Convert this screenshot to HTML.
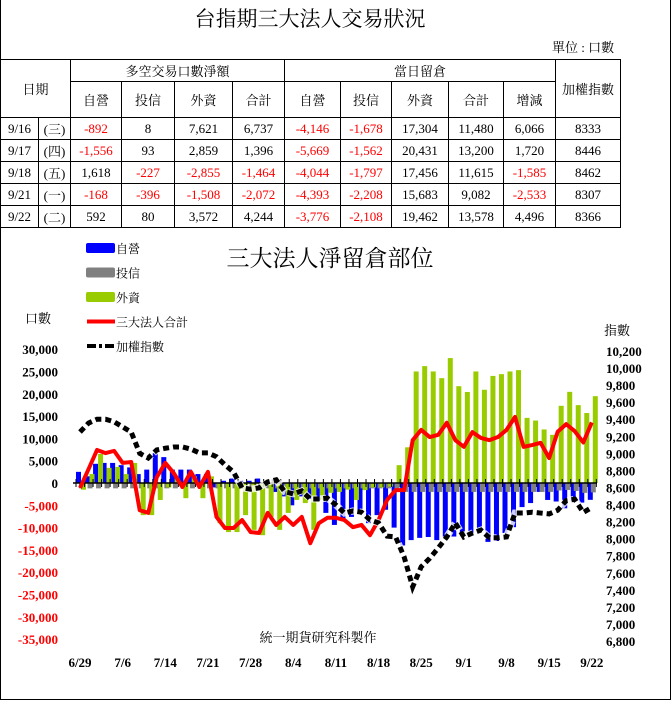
<!DOCTYPE html>
<html><head><meta charset="utf-8">
<style>
body{margin:0;width:672px;height:702px;background:#fff;font-family:"Liberation Serif","Noto Serif CJK TC","Noto Serif CJK SC",serif;overflow:hidden;position:relative}
#frame{position:absolute;left:0;top:0;width:669px;height:699px;border:1px solid #000;border-top:none}
#title{position:absolute;left:0;width:620px;top:3px;text-align:center;font-size:21px}
#unit{position:absolute;left:552px;top:37px;font-size:13px}
table{position:absolute;left:0;top:59px;border-collapse:collapse;font-size:13px;table-layout:fixed}
td{border:1px solid #000;text-align:center;padding:0;height:21px;white-space:nowrap}
.r{color:#f00}
svg{position:absolute;left:0;top:0}
</style></head><body>
<div id="frame"></div>
<div id="title">台指期三大法人交易狀況</div>
<div id="unit">單位 : 口數</div>
<table>
<colgroup><col style="width:38px"><col style="width:32px"><col style="width:51px"><col style="width:53px"><col style="width:58px"><col style="width:52px"><col style="width:56px"><col style="width:51px"><col style="width:57px"><col style="width:55px"><col style="width:52px"><col style="width:65px"></colgroup>
<tr style="height:22px"><td colspan="2" rowspan="2">日期</td><td colspan="4">多空交易口數淨額</td><td colspan="5">當日留倉</td><td rowspan="2">加權指數</td></tr>
<tr style="height:36px"><td>自營</td><td>投信</td><td>外資</td><td>合計</td><td>自營</td><td>投信</td><td>外資</td><td>合計</td><td>增減</td></tr>
<tr><td>9/16</td><td>(三)</td><td class="r">-892</td><td>8</td><td>7,621</td><td>6,737</td><td class="r">-4,146</td><td class="r">-1,678</td><td>17,304</td><td>11,480</td><td>6,066</td><td>8333</td></tr>
<tr><td>9/17</td><td>(四)</td><td class="r">-1,556</td><td>93</td><td>2,859</td><td>1,396</td><td class="r">-5,669</td><td class="r">-1,562</td><td>20,431</td><td>13,200</td><td>1,720</td><td>8446</td></tr>
<tr><td>9/18</td><td>(五)</td><td>1,618</td><td class="r">-227</td><td class="r">-2,855</td><td class="r">-1,464</td><td class="r">-4,044</td><td class="r">-1,797</td><td>17,456</td><td>11,615</td><td class="r">-1,585</td><td>8462</td></tr>
<tr><td>9/21</td><td>(一)</td><td class="r">-168</td><td class="r">-396</td><td class="r">-1,508</td><td class="r">-2,072</td><td class="r">-4,393</td><td class="r">-2,208</td><td>15,683</td><td>9,082</td><td class="r">-2,533</td><td>8307</td></tr>
<tr><td>9/22</td><td>(二)</td><td>592</td><td>80</td><td>3,572</td><td>4,244</td><td class="r">-3,776</td><td class="r">-2,108</td><td>19,462</td><td>13,578</td><td>4,496</td><td>8366</td></tr>
</table>
<svg id="chart" width="672" height="702"></svg>
<script>
const dates=["6/29","7/6","7/14","7/21","7/28","8/4","8/11","8/18","8/25","9/1","9/8","9/15","9/22"];
const dateIdx=[0,5,10,15,20,25,30,35,40,45,50,55,60];
const leftTicks=[30000,25000,20000,15000,10000,5000,0,-5000,-10000,-15000,-20000,-25000,-30000,-35000];
const rightTicks=[10200,10000,9800,9600,9400,9200,9000,8800,8600,8400,8200,8000,7800,7600,7400,7200,7000,6800];
const dealer=[2.5,1.5,4.3,4.5,4.5,4,3.5,2,3,6.7,5.8,3,3,3,2,2,-1,0.5,1,0.5,0.5,1,-1,-2,-3,-5,-3,-3.5,-4,-6.7,-9.4,-8.3,-7.6,-6,-9,-7.2,-6,-10,-14,-12.8,-12.3,-12.1,-12.8,-12,-12,-12,-11.2,-11,-13.2,-13,-11.2,-9.9,-5.4,-4.5,-2,-3.8,-4.146,-5.669,-4.044,-4.393,-3.776];
const trust=[-1.2,-1.2,-1.2,-1.2,-1.2,-1.2,-1.2,-1.2,-1.2,-1.2,-1.2,-1.2,-1.2,-1.2,-1.2,-1.2,-1.2,-1.2,-1.2,-1.2,-1.2,-1.2,-1.2,-1.2,-1.2,-1.2,-1.2,-1.2,-1.2,-1.2,-1.2,-1.2,-1.2,-1.2,-1.2,-1.2,-1.2,-2,-2,-2,-2,-2,-2,-2,-2,-2,-2,-2,-2,-2,-2,-2,-2,-2,-2,-2,-1.678,-1.562,-1.797,-2.208,-2.108];
const foreign=[-1.5,2,6.5,3.4,3.6,2,4.5,-7.2,-7.2,-3.8,-1,1,-3.4,1.5,-3.4,1.5,-9,-11,-11,-7.2,-10.5,-11.7,-7.6,-10.5,-6.7,-3.8,-4.5,-10.5,-3.8,-2.2,-2,-1.5,-3.8,-1.6,-1,-1,-0.8,4,8,25,26.2,25,23.5,28,21.7,20.4,25,20.9,24,24.4,25,25.3,14.6,14,12,10.8,17.304,20.431,17.456,15.683,19.462];
const total=[-1.1,3.1,7.4,6.7,7.2,4.5,4.7,-6.1,-6.7,1.3,4.5,2.2,-0.9,2.5,-0.9,2.5,-7.6,-10.1,-10.1,-8.3,-11,-11.2,-6.7,-9.4,-7.6,-9.4,-7.6,-13.5,-9,-7.8,-7.8,-8.3,-9.9,-9.4,-11.7,-8.3,-3.8,-1.6,-1.6,9.6,11.9,10.3,10.8,13.5,9.6,8.1,11.4,10.1,9.6,10.3,11.9,14.8,8.1,8.5,9,5.6,11.48,13.2,11.615,9.082,13.578];
const taiex=[9250,9355,9400,9400,9370,9310,9250,9000,8945,9040,9060,9075,9075,9050,9005,9005,8960,8865,8780,8595,8580,8595,8665,8690,8550,8525,8560,8465,8465,8475,8395,8300,8325,8310,8220,8185,8030,8020,7785,7435,7670,7770,7890,8020,8185,8020,8065,8100,8010,8010,8020,8300,8300,8310,8300,8290,8333,8446,8462,8307,8366];

const NS="http://www.w3.org/2000/svg";
const svg=document.getElementById('chart');
const X=i=>80+i*8.53;
const YL=v=>483-v*1000*(290/65000);
const YR=v=>641-(v-6800)*(290/3400);
function mk(t,a,p){const e=document.createElementNS(NS,t);for(const k in a)e.setAttribute(k,a[k]);(p||svg).appendChild(e);return e;}

// title, labels
let t=mk('text',{x:330,y:266,'text-anchor':'middle','font-size':23});t.textContent='三大法人淨留倉部位';


t=mk('text',{x:25,y:323,'font-size':13});t.textContent='口數';


t=mk('text',{x:604,y:335,'font-size':13});t.textContent='指數';


t=mk('text',{x:318,y:642,'text-anchor':'middle','font-size':13});t.textContent='統一期貨研究科製作';



// legend
const leg=[['自營','#0000ff','bar'],['投信','#808080','bar'],['外資','#99cc00','bar'],['三大法人合計','#ff0000','line'],['加權指數','#000','dot']];
leg.forEach((l,k)=>{
  const y=248+k*24.5;
  const g=mk('g',{});
  
  
  if(l[2]==='bar')mk('rect',{x:86,y:y-5,width:29,height:10,rx:2,fill:l[1]},g);
  else if(l[2]==='line')mk('line',{x1:87,y1:y,x2:115,y2:y,stroke:l[1],'stroke-width':4},g);
  else mk('line',{x1:87,y1:y,x2:115,y2:y,stroke:'#000','stroke-width':4,'stroke-dasharray':'9,3,3,3'},g);
  const tt=mk('text',{x:116,y:y+5,'font-size':12},g);tt.textContent=l[0];
});

// left ticks
leftTicks.forEach(v=>{
  const e=mk('text',{x:58,y:YL(v/1000)+5,'text-anchor':'end','font-size':13,'font-weight':'bold',fill:v<0?'#ff0000':'#000'});
  e.textContent=v.toLocaleString('en-US');
  
  
});
rightTicks.forEach(v=>{
  const e=mk('text',{x:606,y:YR(v)+5,'font-size':13,'font-weight':'bold'});
  e.textContent=v.toLocaleString('en-US');
  
  
});
dates.forEach((d,k)=>{
  const e=mk('text',{x:X(dateIdx[k]),y:667,'text-anchor':'middle','font-size':13,'font-weight':'bold'});
  e.textContent=d;
  
  
});

function bar(v,x,col,name){
  const y0=YL(0),y1=YL(v);
  const r=mk('rect',{x:x,y:Math.min(y0,y1),width:5,height:Math.abs(y1-y0),fill:col});
  
  
}
dealer.forEach((v,i)=>bar(v,X(i)-4,'#0000ff','bar-dealer'));
trust.forEach((v,i)=>bar(v,X(i)-1,'#808080','bar-trust'));
foreign.forEach((v,i)=>bar(v,X(i)+1,'#99cc00','bar-foreign'));

// zero axis
let ax=mk('line',{x1:73,y1:483,x2:597,y2:483,stroke:'#000','stroke-width':1.5});


for(let i=0;i<=61;i++)mk('line',{x1:X(i)-4,y1:479,x2:X(i)-4,y2:487,stroke:'#000','stroke-width':1});

let p=mk('polyline',{points:total.map((v,i)=>X(i)+','+YL(v)).join(' '),fill:'none',stroke:'#ff0000','stroke-width':4,'stroke-linejoin':'round'});


const pts=taiex.map((v,i)=>X(i)+','+YR(v)).join(' ');
mk('polyline',{points:pts,fill:'none',stroke:'#fff','stroke-width':7,'stroke-dasharray':'6,3','opacity':0.8});
p=mk('polyline',{points:pts,fill:'none',stroke:'#000','stroke-width':5,'stroke-dasharray':'6,4'});


</script>
</body></html>
